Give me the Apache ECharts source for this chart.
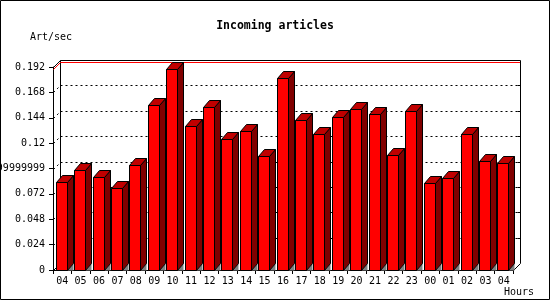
<!DOCTYPE html>
<html><head><meta charset="utf-8">
<script src="https://cdn.jsdelivr.net/npm/echarts@6/dist/echarts.min.js"></script>
<style>html,body{margin:0;padding:0;background:#fff}#c{width:550px;height:300px}</style>
</head><body><div id="c"></div>
<script>
const categories = ['04','05','06','07','08','09','10','11','12','13','14','15','16','17','18','19','20','21','22','23','00','01','02','03','04'];
const values = [0.083,0.0946,0.0877,0.0773,0.0993,0.1558,0.1899,0.136,0.154,0.1237,0.1315,0.1077,0.1814,0.1418,0.1285,0.1446,0.1521,0.1474,0.1085,0.1502,0.082,0.0867,0.1285,0.1028,0.1009];
const yTicks = [0,0.024,0.048,0.072,0.096,0.12,0.144,0.168,0.192];
const yTickLabels = ['0','0.024','0.048','0.072','0.09599999999999999','0.12','0.144','0.168','0.192'];
const titleText = 'Incoming articles';
const yUnit = 'Art/sec';
const xUnit = 'Hours';

const maxVal = Math.max.apply(null, values);
const MONO = '"DejaVu Sans Mono", "Liberation Mono", monospace';
const D = 7; // wall depth
const P = v => Math.round(v) + 0.5;

const chart = echarts.init(document.getElementById('c'), null, {renderer: 'canvas'});

function wallItem(params, api) {
  const cs = params.coordSys;
  const left = cs.x, right = cs.x + cs.width;
  const v = api.value(1);
  const y = Math.round(api.coord([0, v])[1]);
  const y0 = Math.round(api.coord([0, 0])[1]);
  const bl = P(left + D), br = P(right + D), fl = P(left), fr = P(right);
  const yb = y - D + 0.5, yf = y + 0.5;
  const ch = [];
  const isTop = params.dataIndex === yTicks.length - 1;
  const dash = {stroke: '#000', lineWidth: 1, lineDash: [2, 3], fill: null};
  const solid = {stroke: '#000', lineWidth: 1, fill: null};
  if (v !== 0 && !isTop) {
    ch.push({type: 'line', shape: {x1: bl, y1: yb, x2: br, y2: yb}, style: dash});
    ch.push({type: 'line', shape: {x1: fl, y1: yf, x2: bl, y2: yb}, style: dash});
    ch.push({type: 'line', shape: {x1: br - 3, y1: yb, x2: br, y2: yb}, style: solid});
  }
  if (isTop) {
    const y0b = y0 - D + 0.5;
    ch.push({type: 'polyline', shape: {points: [[fl, yf], [bl, yb], [br, yb], [br, y0b], [fr, y0 + 0.5]]}, style: solid});
    ch.push({type: 'line', shape: {x1: bl, y1: yb, x2: bl, y2: y0b}, style: solid});
    ch.push({type: 'line', shape: {x1: fl, y1: y0 + 0.5, x2: bl, y2: y0b}, style: solid});
    const ym = Math.round(api.coord([0, maxVal])[1]);
    ch.push({type: 'polyline', shape: {points: [[fl, ym + 0.5], [bl, ym - D + 0.5], [br - 0.5, ym - D + 0.5]]}, style: {stroke: '#ff0000', lineWidth: 1, fill: null}});
  }
  return {type: 'group', children: ch};
}

function barItem(params, api) {
  const idx = api.value(0);
  const c = api.coord([idx, api.value(1)]);
  const y0 = Math.round(api.coord([idx, 0])[1]) + 0.5;
  const yv = Math.round(c[1]) + 0.5;
  const L = Math.round(c[0] - 6.5) + 0.5;
  const R = L + 11;
  const dx = 6, dy = 7;
  const st = (f) => ({fill: f, stroke: '#000', lineWidth: 1});
  return {type: 'group', children: [
    {type: 'polygon', shape: {points: [[R, y0], [R + dx, y0 - dy], [R + dx, y0]]}, style: {fill: '#808080'}},
    {type: 'polygon', shape: {points: [[R, yv], [R + dx, yv - dy], [R + dx, y0 - dy], [R, y0]]}, style: st('#800000')},
    {type: 'polygon', shape: {points: [[L, yv], [L + dx, yv - dy], [R + dx, yv - dy], [R, yv]]}, style: st('#c00000')},
    {type: 'rect', shape: {x: L, y: yv, width: R - L, height: y0 - yv}, style: st('#ff0000')}
  ]};
}

chart.setOption({
  animation: false,
  backgroundColor: '#fff',
  title: [
    {text: titleText, left: 'center', top: 20, padding: 0,
     textStyle: {fontFamily: MONO, fontWeight: 'bold', fontSize: 11.5, color: '#000'}},
    {text: yUnit, left: 30, top: 32, padding: 0,
     textStyle: {fontFamily: MONO, fontWeight: 'normal', fontSize: 10, color: '#000'}},
    {text: xUnit, left: 504, top: 287, padding: 0,
     textStyle: {fontFamily: MONO, fontWeight: 'normal', fontSize: 10, color: '#000'}}
  ],
  graphic: [{type: 'rect', shape: {x: 0.5, y: 0.5, width: 549, height: 299}, style: {fill: null, stroke: '#000', lineWidth: 1}, z: 100}],
  grid: {left: 53, right: 37, top: 67, bottom: 30, containLabel: false, outerBoundsMode: 'none'},
  xAxis: {
    type: 'category', data: categories,
    axisLine: {show: true, lineStyle: {color: '#000', width: 1}},
    axisTick: {show: true, interval: 0, length: 4, lineStyle: {color: '#000'}},
    axisLabel: {interval: 0, margin: 6, fontFamily: MONO, fontSize: 10, color: '#000'},
    splitLine: {show: false}
  },
  yAxis: {
    type: 'value', min: 0, max: 0.192, interval: 0.024,
    axisLine: {show: true, lineStyle: {color: '#000', width: 1}},
    axisTick: {show: true, length: 4, lineStyle: {color: '#000'}},
    axisLabel: {margin: 8, fontFamily: MONO, fontSize: 10, color: '#000',
      formatter: function (val) {
        for (let k = 0; k < yTicks.length; k++) if (Math.abs(yTicks[k] - val) < 1e-9) return yTickLabels[k];
        return String(val);
      }},
    splitLine: {show: false}
  },
  series: [
    {type: 'custom', name: 'walls', z: 1, renderItem: wallItem, clip: false,
     data: yTicks.map(v => [0, v]), encode: {x: 0, y: 1}, silent: true},
    {type: 'custom', name: 'bars', z: 3, renderItem: barItem, clip: false,
     data: values.map((v, i) => [i, v]), encode: {x: 0, y: 1}}
  ]
});
</script>
</body></html>
